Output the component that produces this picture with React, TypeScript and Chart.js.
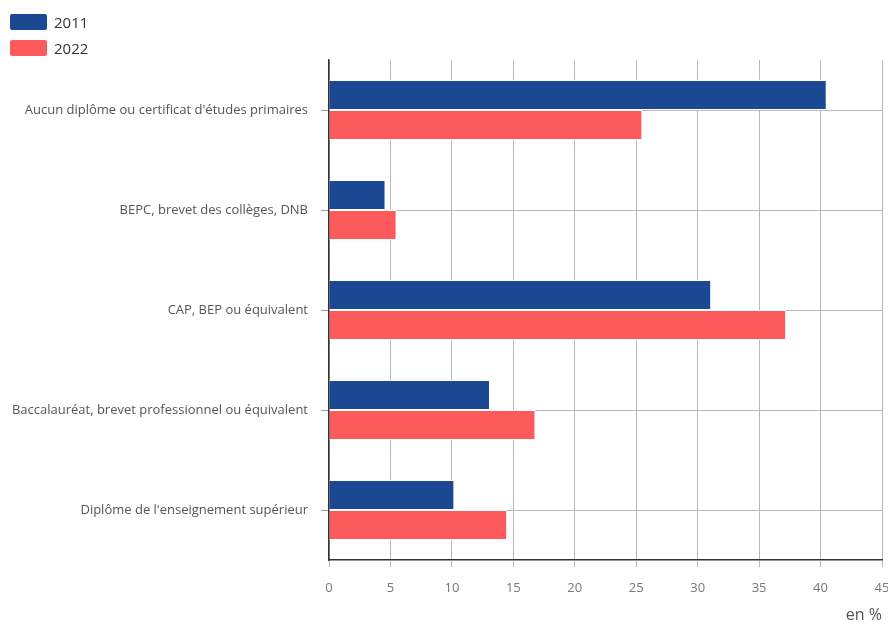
import React, { useEffect, useRef } from "react";
import { Chart, registerables } from "chart.js";

Chart.register(...registerables);

const categories = [
  "Aucun diplôme ou certificat d'études primaires",
  "BEPC, brevet des collèges, DNB",
  "CAP, BEP ou équivalent",
  "Baccalauréat, brevet professionnel ou équivalent",
  "Diplôme de l'enseignement supérieur",
];
const seriesNames = ["2011", "2022"];
const values2011 = [40.5, 4.6, 31.1, 13.1, 10.2];
const values2022 = [25.5, 5.5, 37.2, 16.8, 14.5];
const colors = ["#1a4893", "#fd5b5b"];
const axisTitle = "en %";

const FONT = "'Open Sans', 'DejaVu Sans', sans-serif";

export default function App() {
  const ref = useRef<HTMLCanvasElement | null>(null);
  useEffect(() => {
    if (!ref.current) return;
    const chart = new Chart(ref.current, {
      type: "bar",
      data: {
        labels: categories,
        datasets: [
          {
            label: seriesNames[0],
            data: values2011,
            backgroundColor: colors[0],
            borderColor: "#ffffff",
            borderWidth: 1,
            categoryPercentage: 0.6,
            barPercentage: 1.0,
          },
          {
            label: seriesNames[1],
            data: values2022,
            backgroundColor: colors[1],
            borderColor: "#ffffff",
            borderWidth: 1,
            categoryPercentage: 0.6,
            barPercentage: 1.0,
          },
        ],
      },
      options: {
        indexAxis: "y",
        animation: false,
        responsive: false,
        maintainAspectRatio: false,
        layout: { padding: { top: 60, right: 6, left: 0, bottom: 0 } },
        plugins: {
          legend: { display: false },
          tooltip: { enabled: false },
        },
        scales: {
          x: {
            min: 0,
            max: 45,
            ticks: {
              stepSize: 5,
              color: "#777",
              font: { family: FONT, size: 13 },
              padding: 13,
            },
            grid: {
              color: "#b8b8b8",
              lineWidth: 1,
              tickLength: 7,
              tickColor: "#b8b8b8",
            },
            border: { color: "#333", width: 1.5 },
            title: {
              display: true,
              text: axisTitle,
              align: "end",
              color: "#555",
              font: { family: FONT, size: 16 },
              padding: { top: 0, bottom: 0 },
            },
            afterFit: (s: any) => {
              s.height = 65;
              s.paddingRight = 0;
              s.paddingLeft = 0;
            },
          },
          y: {
            ticks: {
              color: "#555",
              font: { family: FONT, size: 13 },
              padding: 13,
            },
            grid: {
              offset: false,
              color: "#b8b8b8",
              lineWidth: 1,
              tickLength: 8,
              tickColor: "#999",
            },
            border: { color: "#333", width: 1.5 },
            afterFit: (s: any) => {
              s.width = 329;
            },
          },
        },
      },
    });
    return () => chart.destroy();
  }, []);

  const legendItem = (i: number, top: number) => (
    <div
      key={i}
      style={{
        position: "absolute",
        left: 10,
        top,
        display: "flex",
        alignItems: "center",
        fontFamily: FONT,
        fontSize: 15,
        color: "#333",
        lineHeight: "20px",
      }}
    >
      <span
        style={{
          display: "inline-block",
          width: 37,
          height: 16,
          background: colors[i],
          borderRadius: 2,
          marginRight: 7,
        }}
      />
      <span>{seriesNames[i]}</span>
    </div>
  );

  return (
    <div
      style={{
        position: "fixed",
        left: 0,
        top: 0,
        width: 888,
        height: 625,
        background: "#fff",
      }}
    >
      <canvas ref={ref} width={888} height={625} style={{ position: "absolute", left: 0, top: 0 }} />
      {legendItem(0, 12)}
      {legendItem(1, 38)}
    </div>
  );
}
